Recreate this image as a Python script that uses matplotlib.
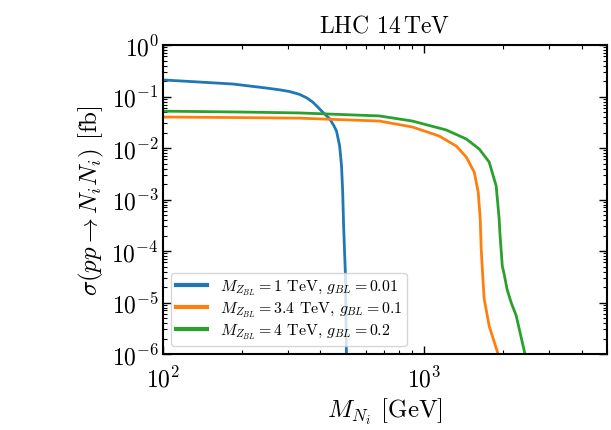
import matplotlib
matplotlib.use("Agg")
import matplotlib.pyplot as plt

plt.rcParams['font.family'] = 'serif'
plt.rcParams['font.serif'] = ['cmr10', 'DejaVu Serif']
plt.rcParams['mathtext.fontset'] = 'cm'
plt.rcParams['axes.unicode_minus'] = False
plt.rcParams['axes.formatter.use_mathtext'] = True

# Blue: M_Z=1 TeV, g=0.01
m_blue = [100, 138, 185, 249, 279, 305, 333, 355, 374, 391, 408, 434, 449, 461, 474,
          482, 487, 491, 499, 503, 505]
s_blue = [0.21, 0.191, 0.175, 0.146, 0.135, 0.125, 0.110, 0.094, 0.078, 0.0625, 0.050,
          0.037, 0.028, 0.0215, 0.011, 0.0045, 0.0014, 3.0e-4, 3.3e-5, 1.1e-6, 5e-7]

# Orange: M_Z=3.4 TeV, g=0.1
m_orange = [100, 200, 333, 673, 900, 1140, 1325, 1446, 1552, 1607, 1636, 1650, 1664,
            1693, 1770, 1915, 1980]
s_orange = [0.040, 0.039, 0.038, 0.0334, 0.0256, 0.0171, 0.0109, 0.0067, 0.0034, 0.0014,
            4.2e-4, 1.1e-4, 5.1e-5, 1.2e-5, 3.5e-6, 1.0e-6, 6e-7]

# Green: M_Z=4 TeV, g=0.2
m_green = [100, 200, 333, 673, 900, 1213, 1446, 1621, 1770, 1883, 1933, 1945, 1987,
           2019, 2073, 2148, 2245, 2427, 2500]
s_green = [0.052, 0.050, 0.048, 0.042, 0.0334, 0.0224, 0.0150, 0.0096, 0.00535, 0.00183,
           4.2e-4, 2.3e-4, 5.1e-5, 3.6e-5, 1.8e-5, 1.0e-5, 5.6e-6, 1.0e-6, 6e-7]

labels = [r"$M_{Z_{BL}} = 1$ TeV, $g_{BL} = 0.01$",
          r"$M_{Z_{BL}} = 3.4$ TeV, $g_{BL} = 0.1$",
          r"$M_{Z_{BL}} = 4$ TeV, $g_{BL} = 0.2$"]
colors = ['#1f77b4', '#ff7f0e', '#2ca02c']

fig = plt.figure(figsize=(6.11, 4.31), dpi=100)
ax = fig.add_axes([0.2668, 0.1763, 0.7267, 0.7169])

for m, s, lab, c in zip([m_blue, m_orange, m_green], [s_blue, s_orange, s_green], labels, colors):
    ax.plot(m, s, color=c, lw=2.0, label=lab)

ax.set_xscale('log')
ax.set_yscale('log')
ax.set_xlim(100, 5000)
ax.set_ylim(1e-6, 1)
ax.set_yticks([1e-6, 1e-5, 1e-4, 1e-3, 1e-2, 1e-1, 1])

ax.tick_params(which='both', direction='in', top=True, right=True, labelsize=17)
ax.tick_params(which='major', length=6, width=1.0)
ax.tick_params(which='minor', length=3, width=0.8)
ax.tick_params(axis='y', pad=3)
ax.tick_params(axis='x', pad=9)
for sp in ax.spines.values():
    sp.set_linewidth(1.5)

ax.set_xlabel(r"$M_{N_i}$ [GeV]", fontsize=18, labelpad=3)
ax.set_ylabel(r"$\sigma(pp\rightarrow N_i N_i)$ [fb]", fontsize=18, labelpad=4)
ax.set_title(r"LHC $14\,\mathrm{TeV}$", fontsize=17, pad=10)

leg = ax.legend(loc='lower left', fontsize=11.4, handlelength=2.0, borderaxespad=0.5,
                labelspacing=0.15, handletextpad=0.8, borderpad=0.3,
                fancybox=True, framealpha=0.8, edgecolor='#cccccc')
for line in leg.get_lines():
    line.set_linewidth(3)

fig.savefig("out.png", dpi=100)
